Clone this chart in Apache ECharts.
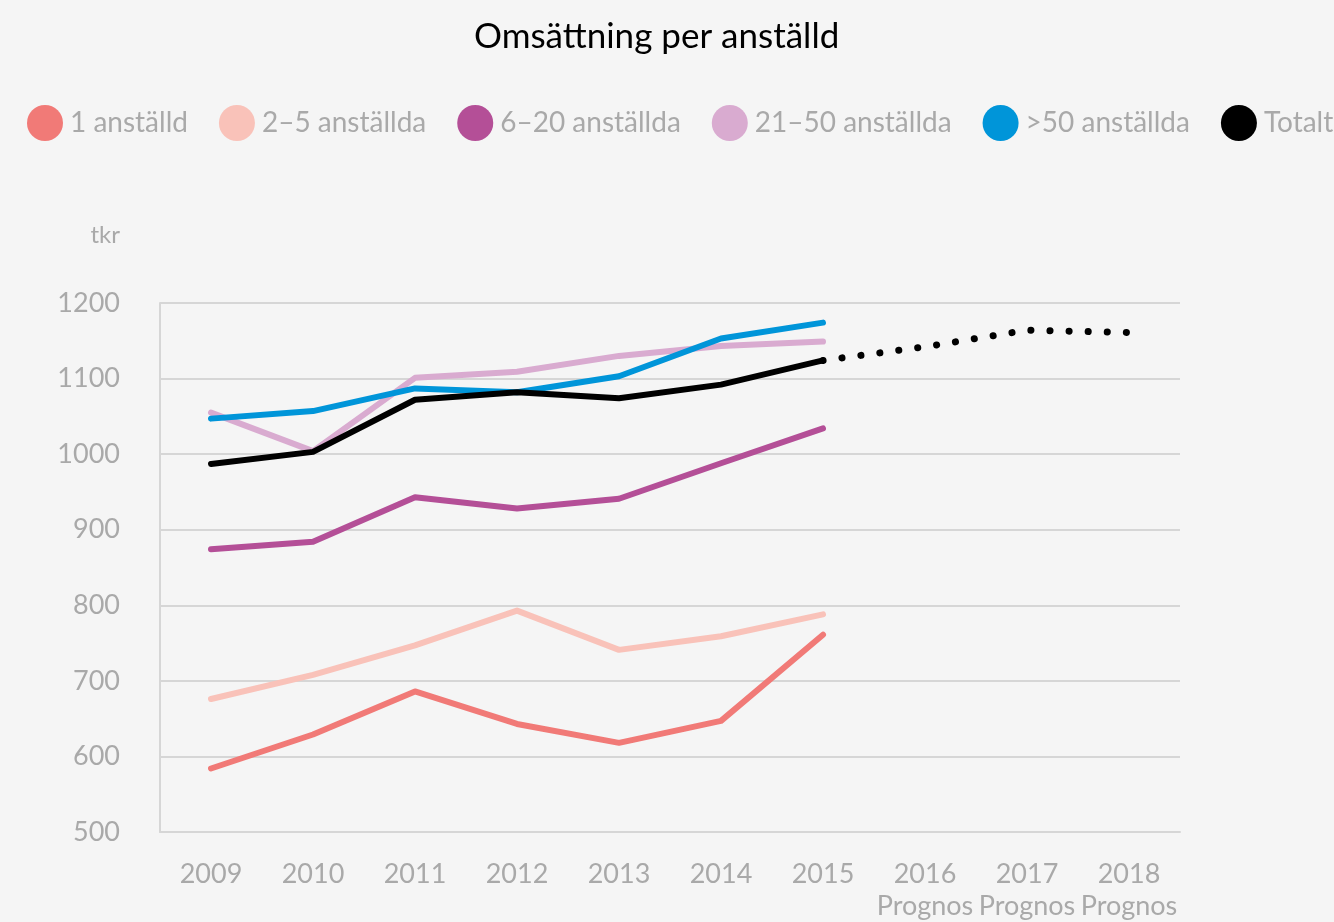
<!DOCTYPE html>
<html>
<head>
<meta charset="utf-8">
<title>Omsättning per anställd</title>
<script src="https://cdn.jsdelivr.net/npm/echarts@6/dist/echarts.min.js"></script>
<style>
  html, body { margin: 0; padding: 0; background: #f5f5f5; }
  #chart { width: 1334px; height: 922px; }
</style>
</head>
<body>
<div id="chart"></div>
<script>
// år + prognosetikett
const years = ['2009', '2010', '2011', '2012', '2013', '2014', '2015', '2016', '2017', '2018']
const prognosYears = ['2016', '2017', '2018']

// tkr per anställd
const en = [584, 629, 686, 643, 618, 647, 761]
const tvaFem = [676, 708, 747, 793, 741, 759, 788]
const sexTjugo = [874, 884, 943, 928, 941, 988, 1034]
const tjugoettFemtio = [1055, 1004, 1101, 1109, 1130, 1143, 1149]
const overFemtio = [1047, 1057, 1087, 1082, 1103, 1153, 1174]
const totalt = [987, 1003, 1072, 1082, 1074, 1092, 1124]
const totaltPrognos = ['-', '-', '-', '-', '-', '-', 1124, 1142, 1164, 1161]

const yTicks = { min: 500, max: 1200, interval: 100 }

const font = "Futura, 'Century Gothic', Lato, 'Noto Sans', sans-serif"
const grey = '#a9a9a9'

const chart = echarts.init(document.getElementById('chart'))

// en linjeserie med gemensam stil
const line = (name, data, color) => ({
  name,
  type: 'line',
  data,
  symbol: 'none',
  smooth: false,
  lineStyle: { color, width: 6, cap: 'round', join: 'round' },
  itemStyle: { color },
  emphasis: { disabled: true }
})

const option = {
  backgroundColor: '#f5f5f5',
  textStyle: { fontFamily: font },
  title: {
    text: 'Omsättning per anställd',
    left: 469,
    top: 14,
    textStyle: { fontFamily: font, fontSize: 35, fontWeight: 'normal', color: '#000' }
  },
  legend: {
    data: ['1 anställd', '2–5 anställda', '6–20 anställda', '21–50 anställda', '>50 anställda', 'Totalt'],
    left: 22,
    top: 100,
    width: 2400,
    icon: 'circle',
    itemWidth: 36,
    itemHeight: 36,
    itemGap: 31,
    textStyle: { fontFamily: font, fontSize: 28, color: grey, padding: [0, 0, 0, 2] }
  },
  grid: { left: 160, right: 154, top: 303, bottom: 87 },
  xAxis: {
    type: 'category',
    data: years,
    boundaryGap: true,
    axisTick: { show: false },
    axisLine: { show: true, lineStyle: { color: '#d6d6d6', width: 2 } },
    axisLabel: {
      interval: 0,
      fontFamily: font,
      fontSize: 27,
      color: grey,
      margin: 26,
      lineHeight: 32,
      formatter: v => prognosYears.includes(v) ? v + '\nPrognos' : v
    }
  },
  yAxis: {
    type: 'value',
    min: yTicks.min,
    max: yTicks.max,
    interval: yTicks.interval,
    name: 'tkr',
    nameLocation: 'end',
    nameGap: 56,
    nameTextStyle: { fontFamily: font, fontSize: 24, color: grey, align: 'right', padding: [0, 40, 0, 0] },
    axisLine: { show: true, lineStyle: { color: '#d6d6d6', width: 2 } },
    axisTick: { show: false },
    splitLine: { lineStyle: { color: '#d6d6d6', width: 2 } },
    axisLabel: { fontFamily: font, fontSize: 27, color: grey, margin: 40, formatter: v => String(v) }
  },
  series: [
    line('1 anställd', en, '#f17a77'),
    line('2–5 anställda', tvaFem, '#f9c2b9'),
    line('6–20 anställda', sexTjugo, '#b44f97'),
    line('21–50 anställda', tjugoettFemtio, '#d9abd0'),
    line('>50 anställda', overFemtio, '#0095d9'),
    {
      name: 'Totalt',
      type: 'line',
      data: totaltPrognos,
      symbol: 'none',
      lineStyle: { color: '#000', width: 7, cap: 'round', type: [0.1, 19] },
      itemStyle: { color: '#000' },
      emphasis: { disabled: true }
    },
    line('Totalt', totalt, '#000')
  ]
}

chart.setOption(option)
</script>
</body>
</html>
